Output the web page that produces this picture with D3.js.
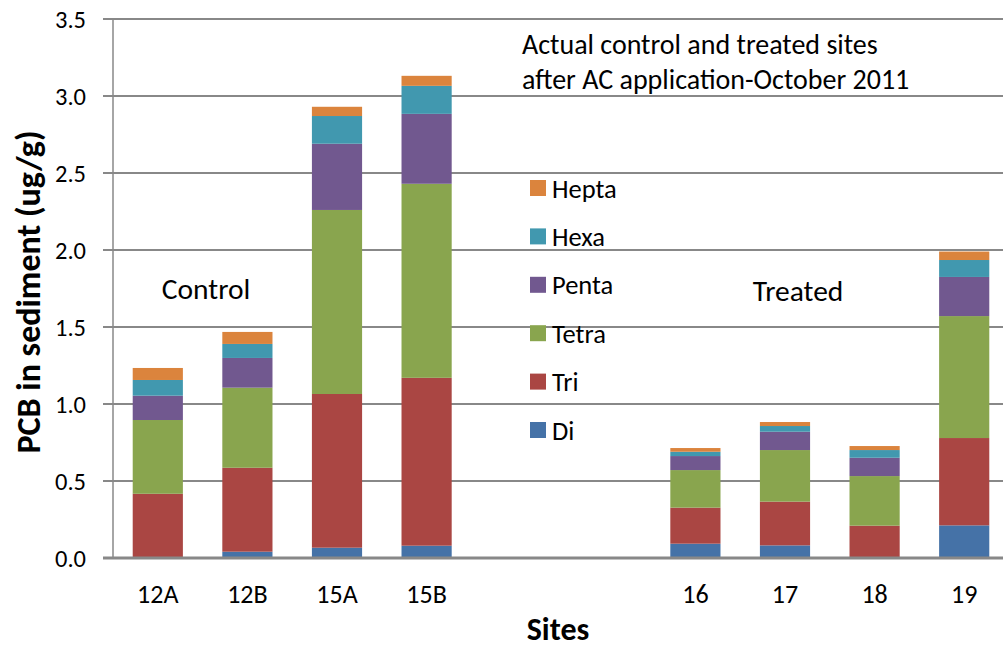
<!DOCTYPE html>
<html>
<head>
<meta charset="utf-8">
<script src="https://cdn.jsdelivr.net/npm/d3@7"></script>
<style>
  body { margin: 0; background: #fff; }
  svg text { font-family: Carlito, Calibri, Lato, sans-serif; fill: #000; }
</style>
</head>
<body>
<div id="main"></div>
<script>
// sites along the x axis; two empty slots separate control from treated
var slots = ["12A", "12B", "15A", "15B", "gap1", "gap2", "16", "17", "18", "19"];
var sites = ["12A", "12B", "15A", "15B", "16", "17", "18", "19"];

// PCB homolog groups (ug/g), one value per site
var di    = [0.000, 0.041, 0.067, 0.080, 0.093, 0.082, 0.000, 0.212];
var tri   = [0.417, 0.545, 0.998, 1.090, 0.234, 0.284, 0.210, 0.567];
var tetra = [0.479, 0.520, 1.195, 1.260, 0.244, 0.335, 0.322, 0.792];
var penta = [0.158, 0.193, 0.430, 0.454, 0.091, 0.119, 0.119, 0.254];
var hexa  = [0.102, 0.091, 0.180, 0.182, 0.028, 0.037, 0.050, 0.110];
var hepta = [0.078, 0.078, 0.060, 0.065, 0.024, 0.026, 0.026, 0.055];

var seriesNames = ["Di", "Tri", "Tetra", "Penta", "Hexa", "Hepta"];
var seriesColors = ["#4572A7", "#AA4643", "#89A54E", "#71588F", "#4198AF", "#DB843D"];
var yTicks = [0, 0.5, 1.0, 1.5, 2.0, 2.5, 3.0, 3.5];
var noteLines = ["Actual control and treated sites", "after AC application-October 2011"];

var WIDTH = 1003, HEIGHT = 649;
var plot = { left: 113, right: 1009, top: 19, bottom: 558 };

var rows = sites.map(function(s, i) {
	return { site: s, Di: di[i], Tri: tri[i], Tetra: tetra[i], Penta: penta[i], Hexa: hexa[i], Hepta: hepta[i] };
});

var svg = d3.select("#main").append("svg")
	.attr("width", WIDTH)
	.attr("height", HEIGHT);

var x = d3.scaleBand()
	.domain(slots)
	.range([plot.left, plot.right])
	.paddingInner(0.44)
	.paddingOuter(0.22);

var y = d3.scaleLinear()
	.domain([0, 3.5])
	.range([plot.bottom, plot.top]);

var color = d3.scaleOrdinal().domain(seriesNames).range(seriesColors);

// gridlines with the little tick stubs left of the axis
svg.append("g")
	.selectAll("line")
	.data(yTicks.slice(1))
	.enter().append("line")
		.attr("x1", plot.left - 10)
		.attr("x2", WIDTH)
		.attr("y1", function(d) { return y(d); })
		.attr("y2", function(d) { return y(d); })
		.attr("stroke", "#888")
		.attr("stroke-width", 2);

// y axis line
svg.append("line")
	.attr("x1", plot.left).attr("x2", plot.left)
	.attr("y1", y(3.5)).attr("y2", y(0))
	.attr("stroke", "#888")
	.attr("stroke-width", 1.5);

// y tick labels
svg.append("g")
	.selectAll("text")
	.data(yTicks)
	.enter().append("text")
		.attr("x", 86)
		.attr("y", function(d) { return y(d); })
		.attr("dy", "0.36em")
		.attr("text-anchor", "end")
		.style("font-size", "24.5px")
		.text(d3.format(".1f"));

// stacked bars
var stack = d3.stack().keys(seriesNames);
var layers = stack(rows);

svg.append("g")
	.selectAll("g")
	.data(layers)
	.enter().append("g")
		.attr("fill", function(d) { return color(d.key); })
	.selectAll("rect")
	.data(function(d) { return d; })
	.enter().append("rect")
		.attr("x", function(d) { return x(d.data.site); })
		.attr("width", x.bandwidth())
		.attr("y", function(d) { return y(d[1]); })
		.attr("height", function(d) { return y(d[0]) - y(d[1]); });

// baseline, drawn over the bars
svg.append("line")
	.attr("x1", plot.left - 10).attr("x2", WIDTH)
	.attr("y1", y(0)).attr("y2", y(0))
	.attr("stroke", "#888")
	.attr("stroke-width", 3);

// x labels
svg.append("g")
	.selectAll("text")
	.data(sites)
	.enter().append("text")
		.attr("x", function(d) { return x(d) + x.bandwidth() / 2; })
		.attr("y", 603)
		.attr("text-anchor", "middle")
		.style("font-size", "26px")
		.text(function(d) { return d; });

// axis titles
svg.append("text")
	.attr("transform", "translate(40,292) rotate(-90)")
	.attr("text-anchor", "middle")
	.style("font-size", "34px")
	.style("font-weight", "bold")
	.text("PCB in sediment (ug/g)");

svg.append("text")
	.attr("x", 558)
	.attr("y", 640)
	.attr("text-anchor", "middle")
	.style("font-size", "32px")
	.style("font-weight", "bold")
	.text("Sites");

// group labels and note
svg.append("text")
	.attr("x", 206).attr("y", 299)
	.attr("text-anchor", "middle")
	.style("font-size", "29.5px")
	.text("Control");

svg.append("text")
	.attr("x", 798).attr("y", 301)
	.attr("text-anchor", "middle")
	.style("font-size", "29.5px")
	.text("Treated");

svg.append("g")
	.selectAll("text")
	.data(noteLines)
	.enter().append("text")
		.attr("x", 522)
		.attr("y", function(d, i) { return 54 + i * 35; })
		.style("font-size", "28px")
		.text(function(d) { return d; });

// legend, top entry is the top of the stack
var legend = svg.append("g")
	.selectAll("g")
	.data(seriesNames.slice().reverse())
	.enter().append("g")
		.attr("transform", function(d, i) { return "translate(530," + (188 + i * 48.4) + ")"; });

legend.append("rect")
	.attr("x", 0).attr("y", -8)
	.attr("width", 16).attr("height", 16)
	.attr("fill", function(d) { return color(d); });

legend.append("text")
	.attr("x", 22)
	.attr("dy", "0.36em")
	.style("font-size", "26.5px")
	.text(function(d) { return d; });
</script>
</body>
</html>
